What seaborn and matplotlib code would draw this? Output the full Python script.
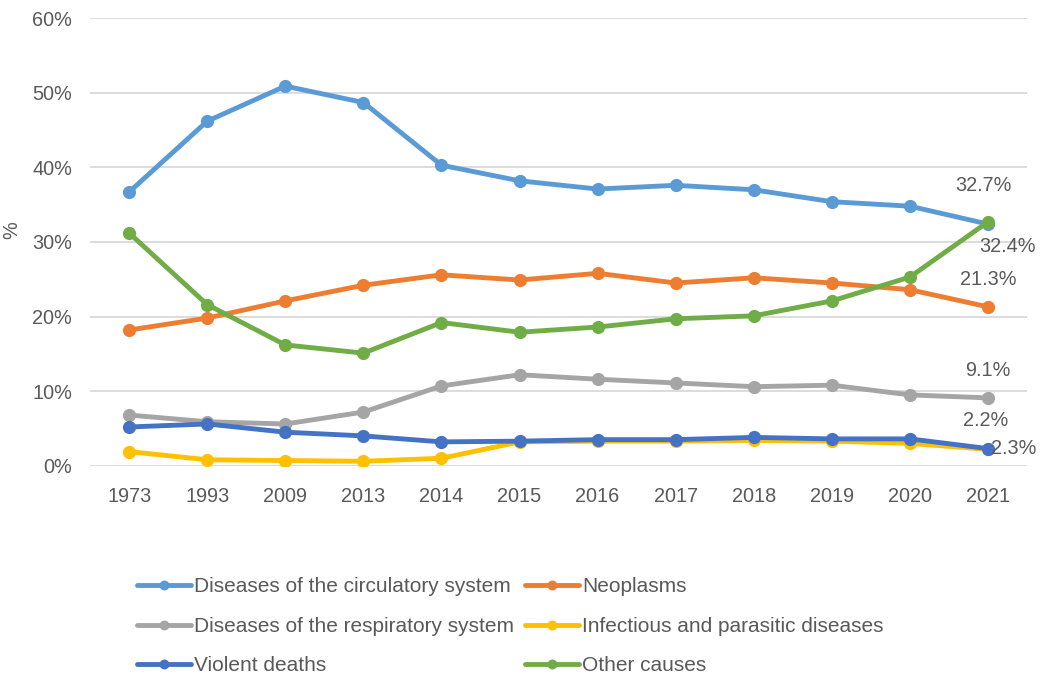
import matplotlib
matplotlib.use("Agg")
import matplotlib.pyplot as plt
import seaborn as sns
import pandas as pd

years = ["1973", "1993", "2009", "2013", "2014", "2015", "2016", "2017", "2018", "2019", "2020", "2021"]

circulatory = [36.7, 46.2, 50.9, 48.7, 40.3, 38.2, 37.1, 37.6, 37.0, 35.4, 34.8, 32.4]
neoplasms = [18.2, 19.8, 22.1, 24.2, 25.6, 24.9, 25.8, 24.5, 25.2, 24.5, 23.6, 21.3]
respiratory = [6.8, 5.9, 5.6, 7.2, 10.7, 12.2, 11.6, 11.1, 10.6, 10.8, 9.5, 9.1]
infectious = [1.9, 0.8, 0.7, 0.6, 1.0, 3.2, 3.3, 3.3, 3.4, 3.3, 3.0, 2.2]
violent = [5.2, 5.6, 4.5, 4.0, 3.2, 3.3, 3.5, 3.5, 3.8, 3.6, 3.6, 2.3]
other = [31.2, 21.6, 16.2, 15.1, 19.2, 17.9, 18.6, 19.7, 20.1, 22.1, 25.3, 32.7]

series_names = [
    "Diseases of the circulatory system",
    "Neoplasms",
    "Diseases of the respiratory system",
    "Infectious and parasitic diseases",
    "Violent deaths",
    "Other causes",
]
series_values = [circulatory, neoplasms, respiratory, infectious, violent, other]
colors = ["#5B9BD5", "#ED7D31", "#A5A5A5", "#FFC000", "#4472C4", "#70AD47"]

rows = []
for name, vals in zip(series_names, series_values):
    for i, (yr, v) in enumerate(zip(years, vals)):
        rows.append({"pos": i, "year": yr, "cause": name, "value": v})
df = pd.DataFrame(rows)

sns.set_theme(style="white")
plt.rcParams["font.family"] = ["Liberation Sans", "DejaVu Sans"]
text_color = "#595959"
fs = 14.3

fig = plt.figure(figsize=(10.48, 6.75), dpi=100)
ax = fig.add_axes([0.086, 0.310, 0.894, 0.663])

palette = dict(zip(series_names, colors))
# lower series first so the darker blue sits on top of the yellow line
for name in ["Infectious and parasitic diseases", "Diseases of the respiratory system",
             "Neoplasms", "Diseases of the circulatory system", "Violent deaths", "Other causes"]:
    sub = df[df["cause"] == name]
    sns.lineplot(data=sub, x="pos", y="value", color=palette[name], linewidth=3.5,
                 marker="o", markersize=9.5, markeredgewidth=0, ax=ax, label=name,
                 legend=False)

ax.set_xlim(-0.5, len(years) - 0.5)
ax.set_ylim(0, 60)
ax.set_xticks(range(len(years)))
ax.set_xticklabels(years)
ax.set_yticks(range(0, 61, 10))
ax.set_yticklabels([f"{v}%" for v in range(0, 61, 10)])
ax.tick_params(axis="y", length=0, labelsize=fs, labelcolor=text_color, pad=13)
ax.tick_params(axis="x", length=0, labelsize=fs, labelcolor=text_color, pad=15)
ax.grid(axis="y", color="#D9D9D9", linewidth=1.3)
ax.grid(axis="x", visible=False)
for s in ax.spines.values():
    s.set_visible(False)
ax.set_xlabel("")
ax.set_ylabel("%", fontsize=fs, color=text_color)
ax.yaxis.set_label_coords(-0.073, 0.527)

# value labels at the last year
last = len(years) - 1
label_offsets = {
    "Other causes": ((-3, 19), "center", "bottom"),
    "Diseases of the circulatory system": ((14, -9), "center", "top"),
    "Neoplasms": ((0, 13), "center", "bottom"),
    "Diseases of the respiratory system": ((0, 13), "center", "bottom"),
    "Infectious and parasitic diseases": ((-2, 14), "center", "bottom"),
    "Violent deaths": ((2, 0), "left", "center"),
}
for name, vals in zip(series_names, series_values):
    (dx, dy), ha, va = label_offsets[name]
    ax.annotate(f"{vals[last]:.1f}%", xy=(last, vals[last]), xytext=(dx, dy),
                textcoords="offset points", ha=ha, va=va, fontsize=fs,
                color=text_color, annotation_clip=False)

handles, labels = ax.get_legend_handles_labels()
hmap = dict(zip(labels, handles))
legend_order = ["Diseases of the circulatory system", "Diseases of the respiratory system",
                "Violent deaths", "Neoplasms", "Infectious and parasitic diseases",
                "Other causes"]
fig.legend([hmap[n] for n in legend_order], legend_order, loc="center",
           bbox_to_anchor=(0.487, 0.072), ncol=2, frameon=False, fontsize=15,
           labelcolor=text_color, handlelength=2.6, handletextpad=0.15,
           columnspacing=0.5, labelspacing=0.98, numpoints=1, markerscale=0.75)

fig.savefig("out.png", dpi=100)
